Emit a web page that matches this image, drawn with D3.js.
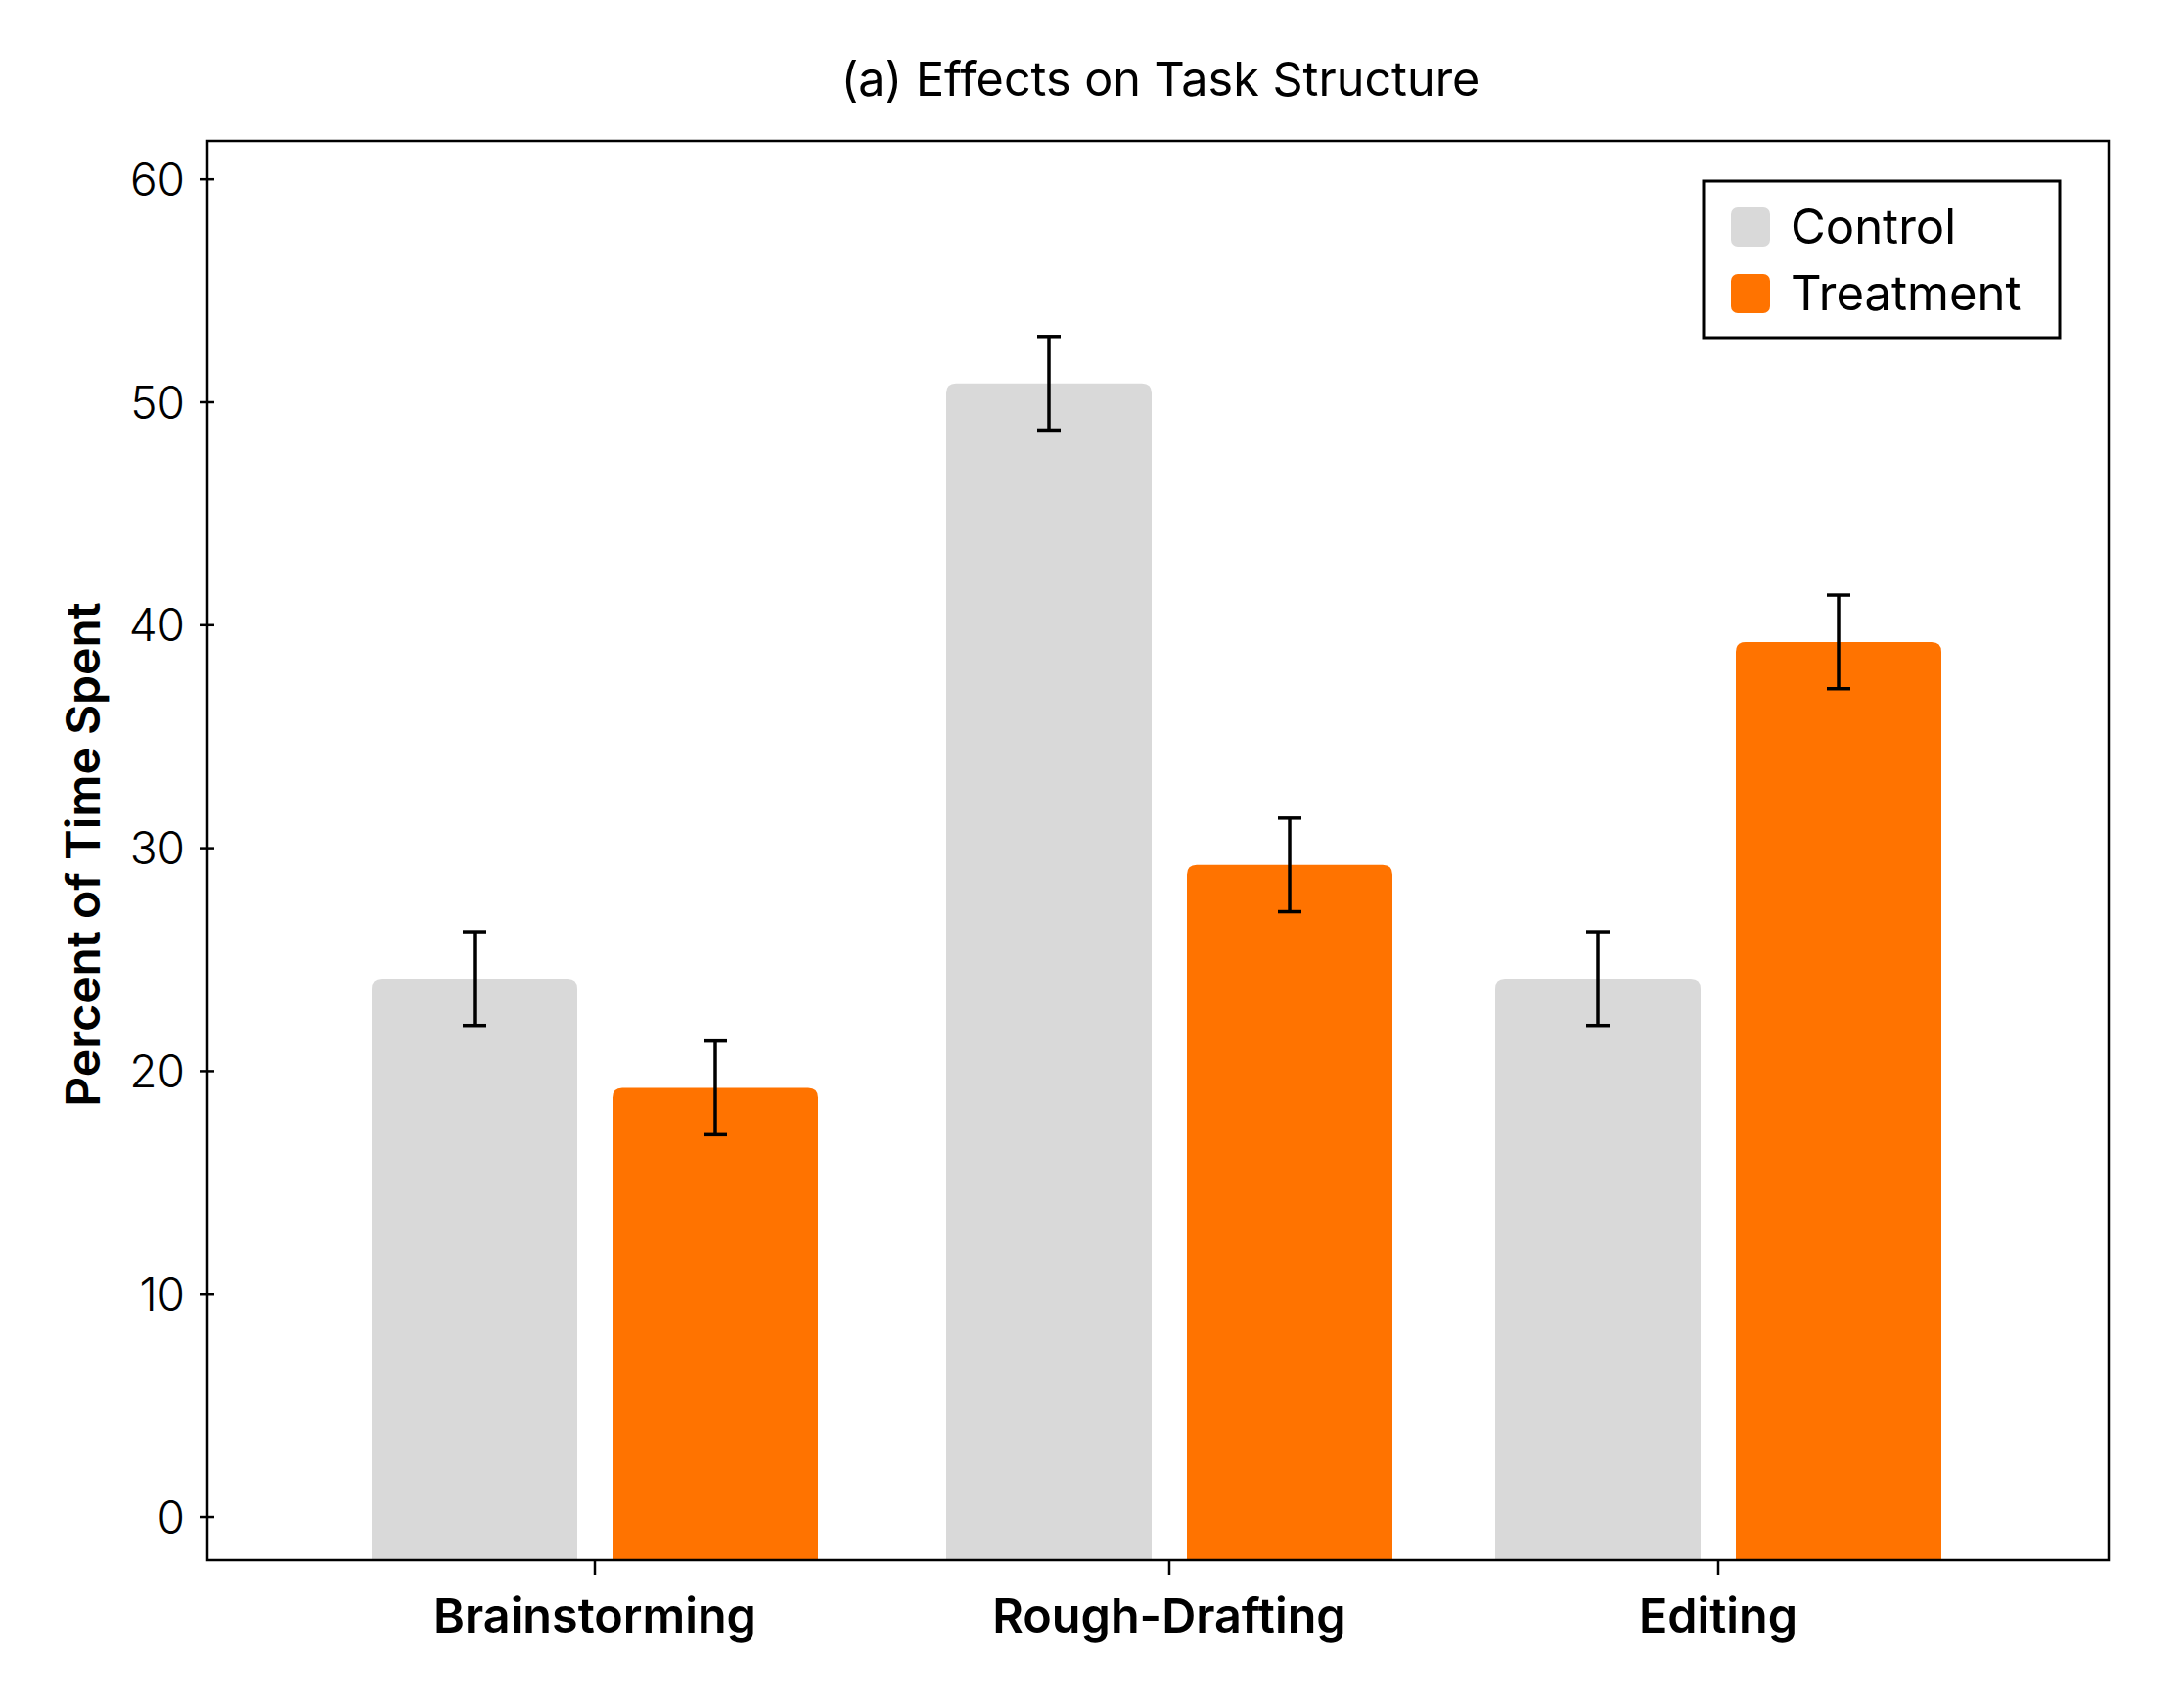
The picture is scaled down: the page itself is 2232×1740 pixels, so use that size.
<!DOCTYPE html>
<html>
<head>
<meta charset="utf-8">
<script src="https://cdn.jsdelivr.net/npm/d3@7"></script>
<style>
  html, body { margin: 0; padding: 0; background: #ffffff; }
  svg { display: block; }
  text { font-family: Inter, "Noto Sans", sans-serif; fill: #000; }
</style>
</head>
<body>
<script>
// ---- data ----
const categories = ["Brainstorming", "Rough-Drafting", "Editing"];
const seriesNames = ["Control", "Treatment"];
const controlValues = [24.15, 50.85, 24.15];
const treatmentValues = [19.25, 29.25, 39.25];
const controlErrors = [2.1, 2.1, 2.1];
const treatmentErrors = [2.1, 2.1, 2.1];
const yTicks = [0, 10, 20, 30, 40, 50, 60];
const titleText = "(a) Effects on Task Structure";
const yLabelText = "Percent of Time Spent";

// ---- layout ----
const W = 2232, H = 1740;
const plotL = 212, plotR = 2155, plotT = 144, plotB = 1594;
const colors = { Control: "#d9d9d9", Treatment: "#ff7300" };

const svg = d3.select("body").append("svg").attr("width", W).attr("height", H);

const y = d3.scaleLinear().domain([-1.93, 61.72]).range([plotB, plotT]);
const x = d3.scaleOrdinal().domain(categories).range([608, 1195, 1756]);
const bw = 210;
const offsets = { Control: -123, Treatment: 123 };

const series = [
  { name: "Control", values: controlValues, errs: controlErrors },
  { name: "Treatment", values: treatmentValues, errs: treatmentErrors }
];

function topRoundedBar(x0, y0, w, y1, r) {
  return `M${x0},${y1} L${x0},${y0 + r} Q${x0},${y0} ${x0 + r},${y0} L${x0 + w - r},${y0} Q${x0 + w},${y0} ${x0 + w},${y0 + r} L${x0 + w},${y1} Z`;
}

// bars
series.forEach(s => {
  svg.append("g").selectAll("path")
    .data(categories.map((c, i) => ({ c, v: s.values[i], e: s.errs[i] })))
    .join("path")
    .attr("d", d => {
      const cx = x(d.c) + offsets[s.name];
      return topRoundedBar(cx - bw / 2, y(d.v), bw, plotB, 10);
    })
    .attr("fill", colors[s.name]);
});

// error bars
series.forEach(s => {
  const g = svg.append("g").attr("stroke", "#000").attr("stroke-width", 3.5);
  const data = categories.map((c, i) => ({ c, v: s.values[i], e: s.errs[i] }));
  g.selectAll("line.v").data(data).join("line").attr("class", "v")
    .attr("x1", d => x(d.c) + offsets[s.name]).attr("x2", d => x(d.c) + offsets[s.name])
    .attr("y1", d => y(d.v + d.e)).attr("y2", d => y(d.v - d.e));
  g.selectAll("line.t").data(data).join("line").attr("class", "t")
    .attr("x1", d => x(d.c) + offsets[s.name] - 12).attr("x2", d => x(d.c) + offsets[s.name] + 12)
    .attr("y1", d => y(d.v + d.e)).attr("y2", d => y(d.v + d.e));
  g.selectAll("line.b").data(data).join("line").attr("class", "b")
    .attr("x1", d => x(d.c) + offsets[s.name] - 12).attr("x2", d => x(d.c) + offsets[s.name] + 12)
    .attr("y1", d => y(d.v - d.e)).attr("y2", d => y(d.v - d.e));
});

// frame
svg.append("rect").attr("x", plotL).attr("y", plotT).attr("width", plotR - plotL).attr("height", plotB - plotT)
  .attr("fill", "none").attr("stroke", "#000").attr("stroke-width", 2.5);

// y axis ticks
const yg = svg.append("g");
yg.selectAll("line").data(yTicks).join("line")
  .attr("x1", plotL - 8).attr("x2", plotL + 7)
  .attr("y1", d => y(d)).attr("y2", d => y(d))
  .attr("stroke", "#000").attr("stroke-width", 2.5);
yg.selectAll("text").data(yTicks).join("text")
  .attr("x", 189).attr("y", d => y(d))
  .attr("dy", "0.36em")
  .attr("text-anchor", "end")
  .attr("font-size", 46).attr("font-weight", 300)
  .text(d => d);

// x axis ticks
const xg = svg.append("g");
xg.selectAll("line").data(categories).join("line")
  .attr("x1", d => x(d)).attr("x2", d => x(d))
  .attr("y1", plotB).attr("y2", plotB + 15)
  .attr("stroke", "#000").attr("stroke-width", 2.5);
xg.selectAll("text").data(categories).join("text")
  .attr("x", d => x(d)).attr("y", 1668)
  .attr("text-anchor", "middle")
  .attr("font-size", 48.5).attr("font-weight", 600)
  .text(d => d);

// title
svg.append("text").attr("x", 1186).attr("y", 98)
  .attr("text-anchor", "middle").attr("font-size", 48.5).attr("font-weight", 400)
  .text(titleText);

// y label
svg.append("text")
  .attr("transform", `translate(102, 873) rotate(-90)`)
  .attr("text-anchor", "middle").attr("font-size", 48).attr("font-weight", 600)
  .text(yLabelText);

// legend
const lg = svg.append("g");
lg.append("rect").attr("x", 1741).attr("y", 185).attr("width", 364).attr("height", 160)
  .attr("fill", "#fff").attr("stroke", "#000").attr("stroke-width", 3);
seriesNames.forEach((n, i) => {
  lg.append("rect").attr("x", 1769).attr("y", 212 + i * 68).attr("width", 40).attr("height", 40)
    .attr("rx", 7).attr("fill", colors[n]);
  lg.append("text").attr("x", 1830).attr("y", 249 + i * 68)
    .attr("font-size", 49).attr("font-weight", 400).text(n);
});
</script>
</body>
</html>
